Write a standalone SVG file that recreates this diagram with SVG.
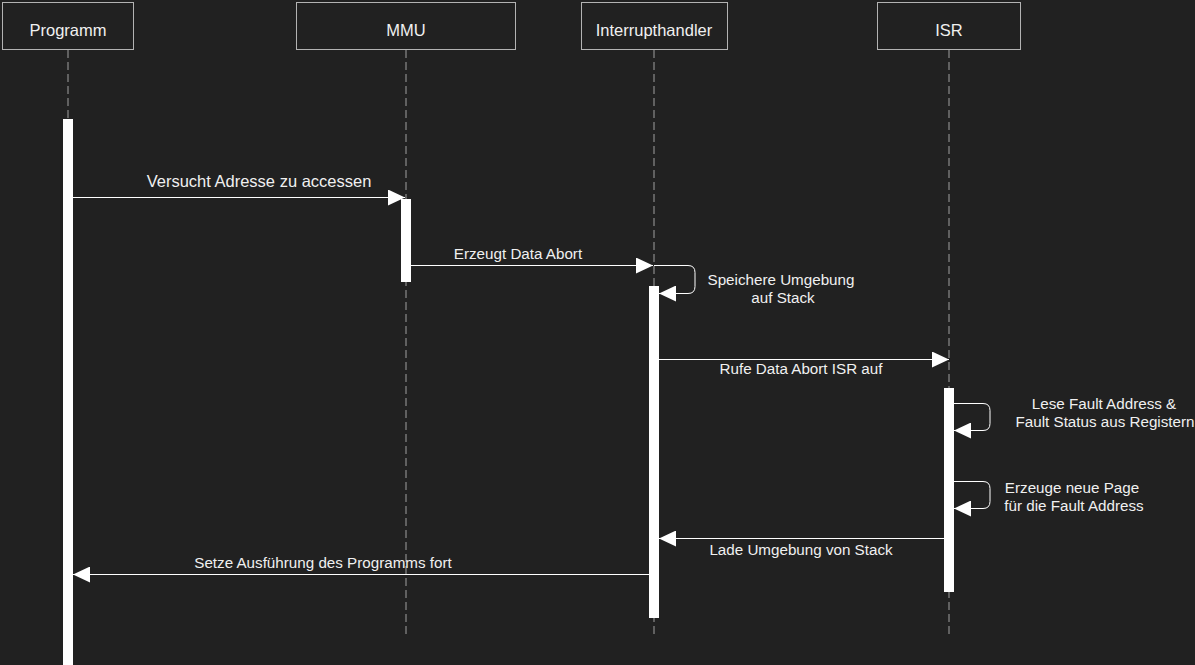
<svg xmlns="http://www.w3.org/2000/svg" width="1195" height="665" viewBox="0 0 1195 665">
  <style>
    .box { fill: #212121; stroke: #b3b3b3; stroke-width: 1; }
    .life { stroke: #a0a0a0; stroke-width: 1; stroke-dasharray: 8 4; fill: none; }
    .act { fill: #ffffff; stroke: #ffffff; stroke-width: 1; }
    .msg { stroke: #ffffff; stroke-width: 1; fill: none; }
    text { font-family: "Liberation Sans", Arial, sans-serif; fill: #f0f0f0; }
    .hd { font-size: 16.5px; text-anchor: middle; }
    .lb { font-size: 15.2px; text-anchor: middle; }
  </style>
  <defs>
    <marker id="arrow" viewBox="0 0 17 16" refX="17" refY="8" markerWidth="17" markerHeight="16" markerUnits="userSpaceOnUse" orient="auto">
      <path d="M0,0 L17,8 L0,16 Z" fill="#ffffff"/>
    </marker>
  </defs>
  <rect width="1195" height="665" fill="#212121"/>

  <!-- participants -->
  <g id="programm">
    <rect class="box" x="2.5" y="2.5" width="131" height="47"/>
    <text class="hd" x="68" y="36">Programm</text>
    <line class="life" x1="68" y1="50" x2="68" y2="119"/>
    <rect class="act" x="63.5" y="119.5" width="9" height="550"/>
  </g>
  <g id="mmu">
    <rect class="box" x="296.5" y="2.5" width="219" height="47"/>
    <text class="hd" x="406" y="36">MMU</text>
    <line class="life" x1="406" y1="50" x2="406" y2="635"/>
    <rect class="act" x="401.5" y="199.5" width="9" height="82"/>
  </g>
  <g id="interrupthandler">
    <rect class="box" x="581.5" y="2.5" width="146" height="47"/>
    <text class="hd" x="654" y="36">Interrupthandler</text>
    <line class="life" x1="654" y1="50" x2="654" y2="635"/>
    <rect class="act" x="649.5" y="286.5" width="9" height="331"/>
  </g>
  <g id="isr">
    <rect class="box" x="877.5" y="2.5" width="143" height="47"/>
    <text class="hd" x="949" y="36">ISR</text>
    <line class="life" x1="949" y1="50" x2="949" y2="635"/>
    <rect class="act" x="944.5" y="388.5" width="9" height="203"/>
  </g>

  <!-- messages -->
  <g id="connectors">
    <line class="msg" x1="73" y1="197.5" x2="405" y2="197.5" marker-end="url(#arrow)"/>
    <line class="msg" x1="411" y1="265.5" x2="653" y2="265.5" marker-end="url(#arrow)"/>
    <path class="msg" d="M654,265.5 H688 Q695,265.5 695,272.5 V286.5 Q695,293.5 688,293.5 H659" marker-end="url(#arrow)"/>
    <line class="msg" x1="659" y1="359.5" x2="949" y2="359.5" marker-end="url(#arrow)"/>
    <path class="msg" d="M954,403.5 H983 Q990,403.5 990,410.5 V423.5 Q990,430.5 983,430.5 H954" marker-end="url(#arrow)"/>
    <path class="msg" d="M954,481.5 H983 Q990,481.5 990,488.5 V501.5 Q990,508.5 983,508.5 H954" marker-end="url(#arrow)"/>
    <line class="msg" x1="944" y1="538.5" x2="659" y2="538.5" marker-end="url(#arrow)"/>
    <line class="msg" x1="649" y1="574.5" x2="73" y2="574.5" marker-end="url(#arrow)"/>
  </g>

  <!-- message labels -->
  <g id="labels">
    <text class="lb" x="259" y="187" style="font-size:16.5px">Versucht Adresse zu accessen</text>
    <text class="lb" x="518" y="259">Erzeugt Data Abort</text>
    <text class="lb" x="781" y="285">Speichere Umgebung</text>
    <text class="lb" x="783" y="303">auf Stack</text>
    <text class="lb" x="801" y="374">Rufe Data Abort ISR auf</text>
    <text class="lb" x="1104" y="409">Lese Fault Address &amp;</text>
    <text class="lb" x="1105" y="427">Fault Status aus Registern</text>
    <text class="lb" x="1072" y="493">Erzeuge neue Page</text>
    <text class="lb" x="1074" y="511">für die Fault Address</text>
    <text class="lb" x="801" y="555">Lade Umgebung von Stack</text>
    <text class="lb" x="323" y="568">Setze Ausführung des Programms fort</text>
  </g>
</svg>
